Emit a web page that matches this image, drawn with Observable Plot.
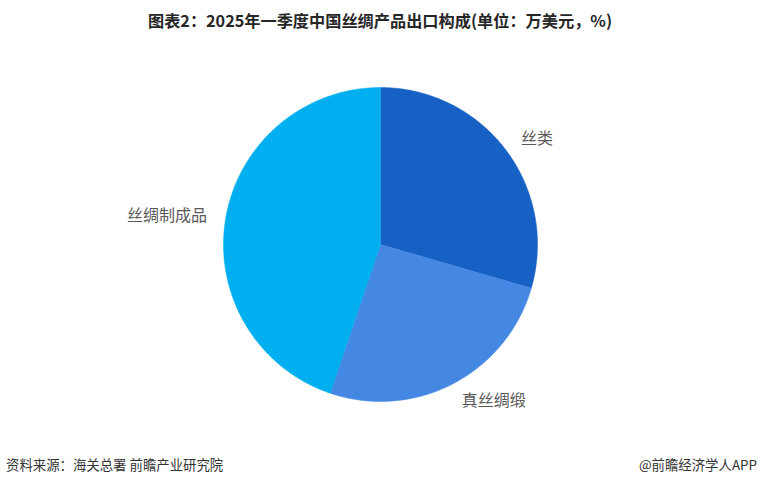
<!DOCTYPE html>
<html>
<head>
<meta charset="utf-8">
<script src="https://cdn.jsdelivr.net/npm/d3@7"></script>
<script src="https://cdn.jsdelivr.net/npm/@observablehq/plot@0.6"></script>
<style>
  html, body { margin: 0; padding: 0; background: #fff; }
  body { width: 760px; height: 485px; position: relative; overflow: hidden; font-family: "Noto Sans CJK SC", "Noto Sans", sans-serif; }
  #title { position: absolute; left: 0; top: 0; width: 760px; height: 40px; display: flex; align-items: center; justify-content: center; font-size: 16.2px; font-weight: bold; color: #262626; }
  #chart { position: absolute; left: 0; top: 40px; }
  #footer { position: absolute; left: 0; top: 451px; width: 760px; height: 26px; display: flex; align-items: center; justify-content: space-between; font-size: 13.4px; color: #333; }
  #footer .l { padding-left: 6px; }
  #footer .r { padding-right: 3px; }
</style>
</head>
<body>
<div id="title">图表2：2025年一季度中国丝绸产品出口构成(单位：万美元，%)</div>
<div id="chart"></div>
<div id="footer"><span class="l">资料来源：海关总署 前瞻产业研究院</span><span class="r">@前瞻经济学人APP</span></div>
<script>
const categories = ["丝类", "真丝绸缎", "丝绸制成品"];
const values = [29.5, 25.7, 44.8];
const colors = ["#1761C5", "#4588E3", "#00AFEF"];

const rows = categories.map((c, i) => ({cat: c, value: values[i]}));
const arcs = d3.pie().sort(null).value(d => d.value)(rows);

// slice outlines (unit circle, y up, angle clockwise from 12 o'clock)
const pts = [];
arcs.forEach(a => {
  pts.push({cat: a.data.cat, x: 0, y: 0});
  const n = Math.max(2, Math.ceil((a.endAngle - a.startAngle) / 0.01));
  for (let k = 0; k <= n; k++) {
    const t = a.startAngle + (a.endAngle - a.startAngle) * k / n;
    pts.push({cat: a.data.cat, x: Math.sin(t), y: Math.cos(t)});
  }
  pts.push({cat: a.data.cat, x: 0, y: 0});
});

const labels = arcs.map(a => {
  const m = (a.startAngle + a.endAngle) / 2;
  return {cat: a.data.cat, x: 1.12 * Math.sin(m), y: 1.12 * Math.cos(m)};
});

const R = 157, cx = 380, cy = 204, W = 760, H = 405;
const chart = Plot.plot({
  width: W,
  height: H,
  marginLeft: cx - R,
  marginRight: W - cx - R,
  marginTop: cy - R,
  marginBottom: H - cy - R,
  x: {domain: [-1, 1], axis: null},
  y: {domain: [-1, 1], axis: null},
  color: {domain: categories, range: colors},
  style: {fontFamily: "'Noto Sans CJK SC', sans-serif", background: "transparent"},
  marks: [
    Plot.line(pts, {x: "x", y: "y", z: "cat", fill: "cat", stroke: "cat", strokeWidth: 0.5, curve: "linear"}),
    Plot.text(labels.filter(d => d.x >= 0), {x: "x", y: "y", text: "cat", textAnchor: "start", fontSize: 16, fill: "#595959"}),
    Plot.text(labels.filter(d => d.x < 0), {x: "x", y: "y", text: "cat", textAnchor: "end", fontSize: 16, fill: "#595959"})
  ]
});
document.getElementById("chart").appendChild(chart);
</script>
</body>
</html>
